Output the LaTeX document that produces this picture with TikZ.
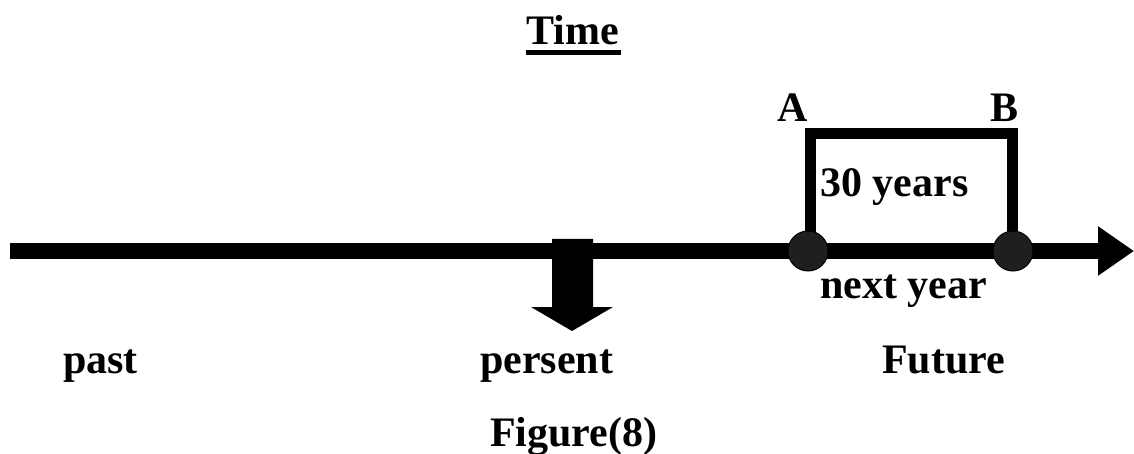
\documentclass[tikz,border=0pt]{standalone}
\usepackage{fontspec}
\setmainfont{Liberation Serif}
\usetikzlibrary{arrows.meta}
\tikzset{
  lbl/.style={anchor=base west, inner sep=0pt, font=\fontsize{42}{50}\selectfont\bfseries},
  dot/.style={circle, fill=black!88, draw=black, line width=1pt, minimum size=40pt, inner sep=0pt},
  axis/.style={line width=16pt, -{Triangle[length=36pt,width=47pt]}},
  frame/.style={line width=11pt, line join=miter}
}
\begin{document}
\begin{tikzpicture}[x=1pt,y=-1pt]
\useasboundingbox (0,0) rectangle (1134,454);
% title
\node[lbl] (time) at (526,45) {Time};
\draw[line width=5pt] (526,52.5) -- (621,52.5);
% timeline
\coordinate (start) at (10,251);
\coordinate (end) at (1134,251);
\draw[axis] (start) -- (end);
% present block arrow
\fill[black] (552,239) -- (593,239) -- (593,307) -- (613,307) -- (572,331) -- (531,307) -- (552,307) -- cycle;
% box A-B
\coordinate (a) at (810,251);
\coordinate (b) at (1012,251);
\draw[frame] (a) |- (1012,134) -- (b);
\node[dot] (dA) at (808,251) {};
\node[dot] (dB) at (1013,251) {};
% labels
\node[lbl] (A) at (777,122) {A};
\node[lbl] (B) at (990,122) {B};
\node[lbl] (yrs) at (820,197) {30 years};
\node[lbl] (next) at (820,298) {next year};
\node[lbl] (past) at (63,373) {past};
\node[lbl] (pres) at (480,373) {persent};
\node[lbl] (fut) at (882,373) {Future};
\node[lbl] (fig) at (490,446) {Figure(8)};
\end{tikzpicture}
\end{document}
